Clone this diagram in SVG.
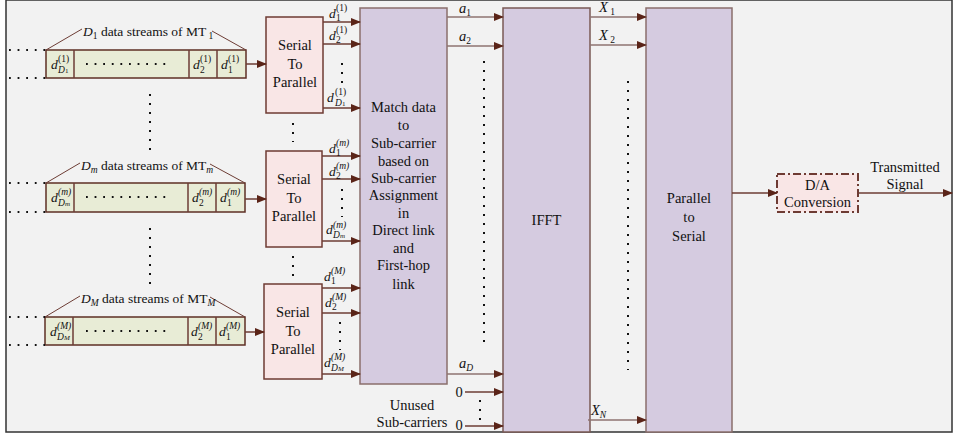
<svg xmlns="http://www.w3.org/2000/svg" width="954" height="438" viewBox="0 0 954 438">
<defs>
<marker id="ah" markerWidth="10" markerHeight="8" refX="9" refY="4" orient="auto" markerUnits="userSpaceOnUse">
<path d="M0,0 L10,4 L0,8 Z" fill="#5a2418"/>
</marker>
<style>
text{font-family:"Liberation Serif","Times New Roman",serif;fill:#111}
.t{font-size:14.5px;text-anchor:middle}
.i{font-style:italic}
.s{font-size:9.5px}
.l{font-size:13.5px}
.sp{fill:#f9e6e6;stroke:#6e3b33;stroke-width:1.5}
.big{fill:#d5cbe0;stroke:#8a6f6c;stroke-width:1.5}
.st{fill:#e8ecd6;stroke:#5e2f25;stroke-width:1.5}
.ar{stroke:#6d3d35;stroke-width:1.5;fill:none;marker-end:url(#ah)}
.ar2{stroke:#8e7370;stroke-width:1.5;fill:none;marker-end:url(#ah)}
.br{stroke:#6d3d35;stroke-width:1;fill:none}
.dv{stroke:#111;stroke-width:2;stroke-dasharray:2 7;fill:none}
.dh{stroke:#111;stroke-width:1.8;stroke-dasharray:1.8 6.8;fill:none}
</style>
</defs>
<rect x="0" y="0" width="954" height="438" fill="#ffffff"/>
<rect x="6" y="0" width="946" height="432" fill="#f2f2f2" stroke="#333" stroke-width="1.5"/>

<!-- Stream 1 -->
<g id="stream1">
<rect class="st" x="46" y="50" width="200" height="28"/>
<line class="br" x1="74" y1="50" x2="74" y2="78" style="stroke-width:1.5"/>
<line class="br" x1="189" y1="50" x2="189" y2="78" style="stroke-width:1.5"/>
<line class="br" x1="217" y1="50" x2="217" y2="78" style="stroke-width:1.5"/>
<line class="dh" x1="9" y1="50" x2="46" y2="50"/>
<line class="dh" x1="9" y1="78" x2="46" y2="78"/>
<line class="dh" x1="86" y1="64" x2="166" y2="64"/>
<line class="br" x1="46" y1="50" x2="82" y2="29"/>
<line class="br" x1="212" y1="31" x2="246" y2="50"/>
<text class="l" x="83" y="36"><tspan class="i">D</tspan><tspan class="s" dy="3">1</tspan><tspan dy="-3"> data streams of MT</tspan><tspan class="s" dy="3"> 1</tspan></text>
<text class="l i" x="51" y="69">d</text><text class="s" x="58" y="62">(1)</text><text class="s i" x="58" y="73">D<tspan font-size="7" font-style="normal">1</tspan></text>
<text class="l i" x="193" y="69">d</text><text class="s" x="200" y="62">(1)</text><text class="s" x="200" y="73">2</text>
<text class="l i" x="221" y="69">d</text><text class="s" x="228" y="62">(1)</text><text class="s" x="228" y="73">1</text>
</g>

<!-- Stream m -->
<g id="streamm">
<rect class="st" x="46" y="183" width="199" height="29"/>
<line class="br" x1="74" y1="183" x2="74" y2="212" style="stroke-width:1.5"/>
<line class="br" x1="188" y1="183" x2="188" y2="212" style="stroke-width:1.5"/>
<line class="br" x1="216" y1="183" x2="216" y2="212" style="stroke-width:1.5"/>
<line class="dh" x1="9" y1="183" x2="46" y2="183"/>
<line class="dh" x1="9" y1="212" x2="46" y2="212"/>
<line class="dh" x1="86" y1="197" x2="166" y2="197"/>
<line class="br" x1="46" y1="183" x2="80" y2="163"/>
<line class="br" x1="210" y1="164" x2="245" y2="183"/>
<text class="l" x="81" y="170"><tspan class="i">D</tspan><tspan class="s i" dy="3">m</tspan><tspan dy="-3"> data streams of MT</tspan><tspan class="s i" dy="3">m</tspan></text>
<text class="l i" x="51" y="202">d</text><text class="s i" x="58" y="195">(m)</text><text class="s i" x="58" y="206">D<tspan font-size="7">m</tspan></text>
<text class="l i" x="192" y="202">d</text><text class="s i" x="199" y="195">(m)</text><text class="s" x="199" y="206">2</text>
<text class="l i" x="220" y="202">d</text><text class="s i" x="227" y="195">(m)</text><text class="s" x="227" y="206">1</text>
</g>

<!-- Stream M -->
<g id="streamM">
<rect class="st" x="45" y="317" width="200" height="28"/>
<line class="br" x1="73" y1="317" x2="73" y2="345" style="stroke-width:1.5"/>
<line class="br" x1="188" y1="317" x2="188" y2="345" style="stroke-width:1.5"/>
<line class="br" x1="216" y1="317" x2="216" y2="345" style="stroke-width:1.5"/>
<line class="dh" x1="9" y1="317" x2="45" y2="317"/>
<line class="dh" x1="9" y1="345" x2="45" y2="345"/>
<line class="dh" x1="86" y1="331" x2="166" y2="331"/>
<line class="br" x1="45" y1="317" x2="80" y2="296"/>
<line class="br" x1="210" y1="297" x2="245" y2="317"/>
<text class="l" x="81" y="303"><tspan class="i">D</tspan><tspan class="s i" dy="3">M</tspan><tspan dy="-3"> data streams of MT</tspan><tspan class="s i" dy="3">M</tspan></text>
<text class="l i" x="50" y="336">d</text><text class="s i" x="57" y="329">(M)</text><text class="s i" x="57" y="340">D<tspan font-size="7">M</tspan></text>
<text class="l i" x="191" y="336">d</text><text class="s i" x="198" y="329">(M)</text><text class="s" x="198" y="340">2</text>
<text class="l i" x="219" y="336">d</text><text class="s i" x="226" y="329">(M)</text><text class="s" x="226" y="340">1</text>
</g>

<!-- vertical dots between streams -->
<line class="dv" x1="150" y1="94" x2="150" y2="150"/>
<line class="dv" x1="150" y1="228" x2="150" y2="285"/>

<!-- S/P boxes -->
<g id="sp1">
<rect class="sp" x="266" y="17" width="57" height="96"/>
<text class="t" x="295" y="50">Serial</text>
<text class="t" x="295" y="69">To</text>
<text class="t" x="295" y="87">Parallel</text>
</g>
<g id="sp2">
<rect class="sp" x="266" y="151" width="56" height="96"/>
<text class="t" x="294" y="184">Serial</text>
<text class="t" x="294" y="203">To</text>
<text class="t" x="294" y="221">Parallel</text>
</g>
<g id="sp3">
<rect class="sp" x="264" y="284" width="58" height="95"/>
<text class="t" x="293" y="317">Serial</text>
<text class="t" x="293" y="336">To</text>
<text class="t" x="293" y="354">Parallel</text>
</g>
<line class="dv" x1="293" y1="123" x2="293" y2="142"/>
<line class="dv" x1="293" y1="256" x2="293" y2="276"/>

<!-- Match box -->
<g id="match">
<rect class="big" x="360" y="8" width="87" height="376"/>
<text class="t" x="403.5" y="112">Match data</text>
<text class="t" x="403.5" y="130">to</text>
<text class="t" x="403.5" y="148">Sub-carrier</text>
<text class="t" x="403.5" y="166">based on</text>
<text class="t" x="403.5" y="183">Sub-carrier</text>
<text class="t" x="403.5" y="200">Assignment</text>
<text class="t" x="403.5" y="218">in</text>
<text class="t" x="403.5" y="235">Direct link</text>
<text class="t" x="403.5" y="253">and</text>
<text class="t" x="403.5" y="270">First-hop</text>
<text class="t" x="403.5" y="289">link</text>
</g>

<!-- IFFT -->
<g id="ifft">
<rect class="big" x="503" y="8" width="87" height="424" style="stroke:#7a5a55"/>
<text class="t" x="546.5" y="225">IFFT</text>
</g>

<!-- P/S -->
<g id="ps">
<rect class="big" x="646" y="8" width="86" height="424"/>
<text class="t" x="689" y="203">Parallel</text>
<text class="t" x="689" y="222">to</text>
<text class="t" x="689" y="241">Serial</text>
</g>

<!-- D/A -->
<g id="da">
<rect x="777" y="174" width="81" height="38" fill="#f9e6e6" stroke="#6e3b33" stroke-width="2" stroke-dasharray="8 3 2 3"/>
<text class="t" x="817.5" y="190">D/A</text>
<text class="t" x="817.5" y="207">Conversion</text>
</g>

<g id="connectors">
<line class="ar" x1="246" y1="64" x2="266" y2="64"/>
<line class="ar" x1="245" y1="199" x2="266" y2="199"/>
<line class="ar" x1="245" y1="332" x2="264" y2="332"/>

<line class="ar" x1="323" y1="22" x2="360" y2="22"/>
<line class="ar" x1="323" y1="44" x2="360" y2="44"/>
<line class="ar" x1="323" y1="108" x2="360" y2="108"/>
<line class="ar" x1="322" y1="156" x2="360" y2="156"/>
<line class="ar" x1="322" y1="179" x2="360" y2="179"/>
<line class="ar" x1="322" y1="241" x2="360" y2="241"/>
<line class="ar" x1="322" y1="288" x2="360" y2="288"/>
<line class="ar" x1="322" y1="313" x2="360" y2="313"/>
<line class="ar" x1="322" y1="374" x2="360" y2="374"/>

<line class="ar2" x1="447" y1="17" x2="503" y2="17"/>
<line class="ar2" x1="447" y1="46" x2="503" y2="46"/>
<line class="ar2" x1="447" y1="374" x2="503" y2="374"/>
<line class="ar" x1="465" y1="392" x2="503" y2="392"/>
<line class="ar" x1="465" y1="426" x2="503" y2="426"/>

<line class="ar2" x1="590" y1="17" x2="646" y2="17"/>
<line class="ar2" x1="590" y1="45" x2="646" y2="45"/>
<line class="ar2" x1="588" y1="420" x2="646" y2="420"/>

<line class="ar" x1="732" y1="193" x2="777" y2="193"/>
<line class="ar" x1="858" y1="193" x2="952" y2="193"/>
</g>

<!-- S/P output labels -->
<text class="l i" x="329" y="18">d</text><text class="s" x="336" y="11">(1)</text><text class="s" x="336" y="21">1</text>
<text class="l i" x="329" y="40">d</text><text class="s" x="336" y="33">(1)</text><text class="s" x="336" y="43">2</text>
<text class="l i" x="327" y="102">d</text><text class="s" x="335" y="95">(1)</text><text class="s i" x="335" y="106">D<tspan font-size="7" font-style="normal">1</tspan></text>
<line class="dv" x1="342" y1="63" x2="342" y2="84"/>

<text class="l i" x="329" y="153">d</text><text class="s i" x="336" y="146">(m)</text><text class="s" x="336" y="156">1</text>
<text class="l i" x="329" y="176">d</text><text class="s i" x="336" y="169">(m)</text><text class="s" x="336" y="179">2</text>
<text class="l i" x="326" y="234">d</text><text class="s i" x="333" y="228">(m)</text><text class="s i" x="333" y="238">D<tspan font-size="7">m</tspan></text>
<line class="dv" x1="342" y1="189" x2="342" y2="217"/>

<text class="l i" x="324" y="281">d</text><text class="s i" x="331" y="274">(M)</text><text class="s" x="331" y="284">1</text>
<text class="l i" x="325" y="307">d</text><text class="s i" x="332" y="300">(M)</text><text class="s" x="332" y="310">2</text>
<text class="l i" x="324" y="367">d</text><text class="s i" x="331" y="360">(M)</text><text class="s i" x="331" y="371">D<tspan font-size="7">M</tspan></text>
<line class="dv" x1="340" y1="322" x2="340" y2="350"/>

<!-- a labels -->
<text class="t i" x="464" y="13" style="text-anchor:start" dx="-5">a<tspan class="s" font-style="normal" dy="3">1</tspan></text>
<text class="t i" x="459" y="41" style="text-anchor:start">a<tspan class="s" font-style="normal" dy="3">2</tspan></text>
<text class="t i" x="459" y="368" style="text-anchor:start">a<tspan class="s" dy="3">D</tspan></text>
<line class="dv" x1="484" y1="61" x2="484" y2="342"/>
<text class="t" x="459" y="397">0</text>
<text class="t" x="459" y="430">0</text>
<line class="dv" x1="480" y1="400" x2="480" y2="420"/>
<text class="t" x="412" y="410">Unused</text>
<text class="t" x="412" y="427">Sub-carriers</text>

<!-- X labels -->
<text class="t i" x="599" y="12" style="text-anchor:start">X<tspan class="s" font-style="normal" dy="3"> 1</tspan></text>
<text class="t i" x="599" y="40" style="text-anchor:start">X<tspan class="s" font-style="normal" dy="3"> 2</tspan></text>
<text class="t i" x="591" y="415" style="text-anchor:start">X<tspan class="s" dy="3">N</tspan></text>
<line class="dv" x1="628" y1="81" x2="628" y2="370"/>

<text class="t" x="905" y="172">Transmitted</text>
<text class="t" x="905" y="189">Signal</text>
</svg>
